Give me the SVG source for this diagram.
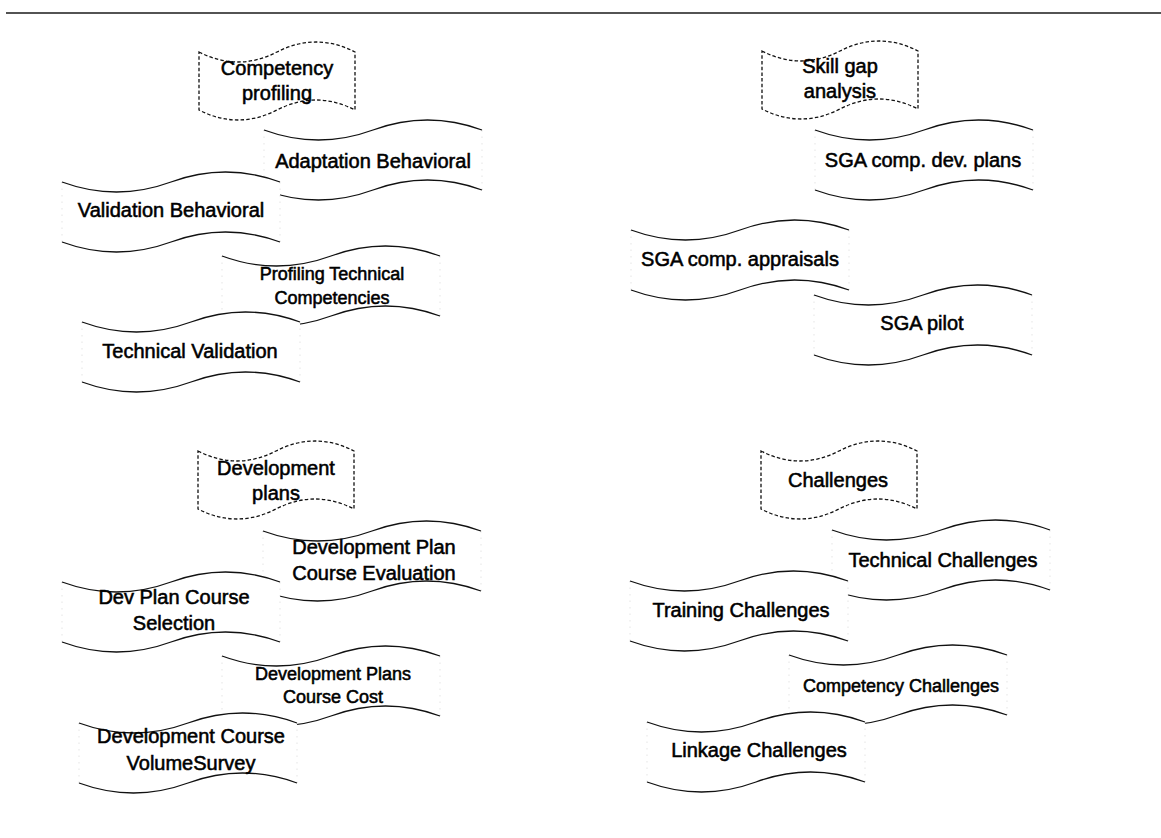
<svg xmlns="http://www.w3.org/2000/svg" xmlns:xlink="http://www.w3.org/1999/xlink" width="1161" height="838" viewBox="0 0 1161 838">
<style>
  .bg{fill:#fff}
  .tfill{fill:#fff;stroke:none}
  .wave{fill:none;stroke:#111;stroke-width:1.3}
  .side{fill:none;stroke:#d4d4d4;stroke-width:0.6;stroke-dasharray:1.5 5}
  .hdr{fill:#fff;stroke:#111;stroke-width:1.3;stroke-dasharray:3.5 2.2}
  text{font-family:"Liberation Sans",Arial,sans-serif;fill:#000;stroke:#000;stroke-width:0.55;text-anchor:middle}
  .t20{font-size:20px}
  .t18{font-size:18px}
  .rule{stroke:#1a1a1a;stroke-width:1.6}
</style>
<defs>
  <g id="tape">
    <path class="tfill" d="M0,0 Q54.5,20 109,0 T218,0 L218,60 Q163.5,40 109,60 T0,60 Z"/>
    <path class="side" d="M0,0 V60 M218,0 V60"/>
    <path class="wave" d="M0,0 Q54.5,20 109,0 T218,0"/>
    <path class="wave" d="M0,60 Q54.5,80 109,60 T218,60"/>
  </g>
  <path id="flag" class="hdr" d="M0,0 Q39,20 78,0 T156,0 L156,58 Q117,38 78,58 T0,58 Z"/>
</defs>
<rect class="bg" x="0" y="0" width="1161" height="838"/>
<g id="rule"><line class="rule" x1="6" y1="13" x2="1161" y2="13"/></g>
<g id="connectors"></g>

<!-- Quadrant 1: Competency profiling -->
<g id="h-competency-profiling">
  <use xlink:href="#flag" x="199" y="52"/>
  <text class="t20" x="277" y="75">Competency</text>
  <text class="t20" x="277" y="100">profiling</text>
</g>
<g id="n-adaptation-behavioral">
  <use xlink:href="#tape" x="264" y="130"/>
  <text class="t20" x="373" y="168">Adaptation Behavioral</text>
</g>
<g id="n-validation-behavioral">
  <use xlink:href="#tape" x="62" y="182"/>
  <text class="t20" x="171" y="217">Validation Behavioral</text>
</g>
<g id="n-profiling-technical">
  <use xlink:href="#tape" x="222" y="256"/>
  <text class="t18" x="332" y="280">Profiling Technical</text>
  <text class="t18" x="332" y="304">Competencies</text>
</g>
<g id="n-technical-validation">
  <use xlink:href="#tape" x="82" y="322"/>
  <text class="t20" x="190" y="358">Technical Validation</text>
</g>

<!-- Quadrant 2: Skill gap analysis -->
<g id="h-skill-gap-analysis">
  <use xlink:href="#flag" x="762" y="51"/>
  <text class="t20" x="840" y="73">Skill gap</text>
  <text class="t20" x="840" y="98">analysis</text>
</g>
<g id="n-sga-dev-plans">
  <use xlink:href="#tape" x="815" y="130"/>
  <text class="t20" x="923" y="167">SGA comp. dev. plans</text>
</g>
<g id="n-sga-appraisals">
  <use xlink:href="#tape" x="631" y="230"/>
  <text class="t20" x="740" y="266">SGA comp. appraisals</text>
</g>
<g id="n-sga-pilot">
  <use xlink:href="#tape" x="814" y="295"/>
  <text class="t20" x="922" y="330">SGA pilot</text>
</g>

<!-- Quadrant 3: Development plans -->
<g id="h-development-plans">
  <use xlink:href="#flag" x="198" y="451"/>
  <text class="t20" x="276" y="475">Development</text>
  <text class="t20" x="276" y="500">plans</text>
</g>
<g id="n-devplan-course-evaluation">
  <use xlink:href="#tape" x="263" y="531"/>
  <text class="t20" x="374" y="554">Development Plan</text>
  <text class="t20" x="374" y="580">Course Evaluation</text>
</g>
<g id="n-devplan-course-selection">
  <use xlink:href="#tape" x="62" y="582"/>
  <text class="t20" x="174" y="604">Dev Plan Course</text>
  <text class="t20" x="174" y="630">Selection</text>
</g>
<g id="n-devplans-course-cost">
  <use xlink:href="#tape" x="222" y="656"/>
  <text class="t18" x="333" y="680">Development Plans</text>
  <text class="t18" x="333" y="703">Course Cost</text>
</g>
<g id="n-dev-course-volume">
  <use xlink:href="#tape" x="79" y="723"/>
  <text class="t20" x="191" y="743">Development Course</text>
  <text class="t20" x="191" y="770">VolumeSurvey</text>
</g>

<!-- Quadrant 4: Challenges -->
<g id="h-challenges">
  <use xlink:href="#flag" x="761" y="451"/>
  <text class="t20" x="838" y="487">Challenges</text>
</g>
<g id="n-technical-challenges">
  <use xlink:href="#tape" x="832" y="530"/>
  <text class="t20" x="943" y="567">Technical Challenges</text>
</g>
<g id="n-training-challenges">
  <use xlink:href="#tape" x="630" y="581"/>
  <text class="t20" x="741" y="617">Training Challenges</text>
</g>
<g id="n-competency-challenges">
  <use xlink:href="#tape" x="789" y="655"/>
  <text class="t18" x="901" y="692">Competency Challenges</text>
</g>
<g id="n-linkage-challenges">
  <use xlink:href="#tape" x="647" y="722"/>
  <text class="t20" x="759" y="757">Linkage Challenges</text>
</g>
</svg>
